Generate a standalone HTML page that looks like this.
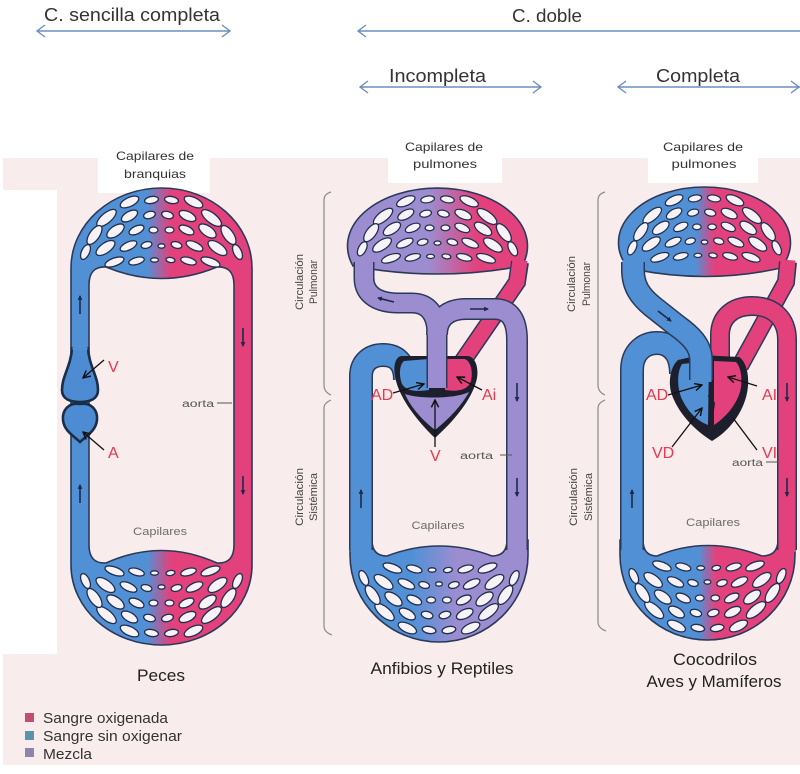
<!DOCTYPE html>
<html><head><meta charset="utf-8"><style>html,body{margin:0;padding:0;background:#fff}svg{display:block}</style></head>
<body>
<svg width="800" height="774" viewBox="0 0 800 774" xmlns="http://www.w3.org/2000/svg" font-family="'Liberation Sans', Arial, sans-serif">
<defs>
<linearGradient id="gF" gradientUnits="userSpaceOnUse" x1="71" y1="0" x2="252" y2="0"><stop offset="0" stop-color="#5290d6"/><stop offset="0.42" stop-color="#5290d6"/><stop offset="0.55" stop-color="#e3417c"/><stop offset="1" stop-color="#e3417c"/></linearGradient>
<linearGradient id="gMl" gradientUnits="userSpaceOnUse" x1="348" y1="0" x2="527" y2="0"><stop offset="0" stop-color="#9c8dd0"/><stop offset="0.45" stop-color="#9c8dd0"/><stop offset="0.72" stop-color="#e3417c"/><stop offset="1" stop-color="#e3417c"/></linearGradient>
<linearGradient id="gMb" gradientUnits="userSpaceOnUse" x1="350" y1="0" x2="528" y2="0"><stop offset="0" stop-color="#5290d6"/><stop offset="0.35" stop-color="#5290d6"/><stop offset="0.6" stop-color="#9c8dd0"/><stop offset="1" stop-color="#9c8dd0"/></linearGradient>
<linearGradient id="gRl" gradientUnits="userSpaceOnUse" x1="620" y1="0" x2="788" y2="0"><stop offset="0" stop-color="#5290d6"/><stop offset="0.45" stop-color="#5290d6"/><stop offset="0.56" stop-color="#e3417c"/><stop offset="1" stop-color="#e3417c"/></linearGradient>
<linearGradient id="gRb" gradientUnits="userSpaceOnUse" x1="620" y1="0" x2="795" y2="0"><stop offset="0" stop-color="#5290d6"/><stop offset="0.45" stop-color="#5290d6"/><stop offset="0.55" stop-color="#e3417c"/><stop offset="1" stop-color="#e3417c"/></linearGradient>
<marker id="ah" viewBox="0 0 10 10" refX="9" refY="5" markerWidth="7" markerHeight="7" orient="auto"><path d="M1,1 L9,5 L1,9" fill="none" stroke="#111" stroke-width="1.6"/></marker>
<marker id="tm" viewBox="0 0 10 10" refX="8" refY="5" markerWidth="3" markerHeight="3" orient="auto"><path d="M0,0 L10,5 L0,10 Z" fill="#1c2a4a"/></marker>
<g id="mesh" fill="#f7f2f5" stroke="#1f2f4f" stroke-width="1.3">
<ellipse cx="-32" cy="14" rx="10" ry="4.5" transform="rotate(-25 -32 14)"/>
<ellipse cx="-10" cy="12" rx="7" ry="3.5" transform="rotate(-10 -10 12)"/>
<ellipse cx="10" cy="12" rx="7" ry="3.5" transform="rotate(10 10 12)"/>
<ellipse cx="32" cy="14" rx="10" ry="4.5" transform="rotate(25 32 14)"/>
<ellipse cx="-55" cy="30" rx="12" ry="5" transform="rotate(-40 -55 30)"/>
<ellipse cx="-32" cy="28" rx="9" ry="4.5" transform="rotate(-30 -32 28)"/>
<ellipse cx="-12" cy="27" rx="6" ry="3.5" transform="rotate(-15 -12 27)"/>
<ellipse cx="6" cy="27" rx="6" ry="3.5" transform="rotate(15 6 27)"/>
<ellipse cx="26" cy="28" rx="9" ry="4.5" transform="rotate(25 26 28)"/>
<ellipse cx="50" cy="30" rx="12" ry="5" transform="rotate(38 50 30)"/>
<ellipse cx="-67" cy="47" rx="11" ry="5" transform="rotate(-55 -67 47)"/>
<ellipse cx="-46" cy="43" rx="10" ry="5" transform="rotate(-35 -46 43)"/>
<ellipse cx="-25" cy="42" rx="8" ry="4" transform="rotate(-25 -25 42)"/>
<ellipse cx="-8" cy="42" rx="4.5" ry="3"/>
<ellipse cx="8" cy="42" rx="4.5" ry="3"/>
<ellipse cx="25" cy="42" rx="8" ry="4" transform="rotate(25 25 42)"/>
<ellipse cx="46" cy="43" rx="10" ry="5" transform="rotate(35 46 43)"/>
<ellipse cx="67" cy="47" rx="11" ry="5" transform="rotate(55 67 47)"/>
<ellipse cx="-76" cy="64" rx="8" ry="4" transform="rotate(-65 -76 64)"/>
<ellipse cx="-56" cy="60" rx="11" ry="5" transform="rotate(-35 -56 60)"/>
<ellipse cx="-33" cy="58" rx="9" ry="4" transform="rotate(-25 -33 58)"/>
<ellipse cx="-15" cy="57" rx="5.5" ry="3.2" transform="rotate(-15 -15 57)"/>
<ellipse cx="0" cy="58" rx="3.5" ry="2.2"/>
<ellipse cx="15" cy="57" rx="5.5" ry="3.2" transform="rotate(15 15 57)"/>
<ellipse cx="33" cy="58" rx="9" ry="4" transform="rotate(25 33 58)"/>
<ellipse cx="56" cy="60" rx="11" ry="5" transform="rotate(35 56 60)"/>
<ellipse cx="76" cy="64" rx="8" ry="4" transform="rotate(65 76 64)"/>
<ellipse cx="-47" cy="74" rx="10" ry="4" transform="rotate(-20 -47 74)"/>
<ellipse cx="-25" cy="73" rx="8" ry="3.5" transform="rotate(-15 -25 73)"/>
<ellipse cx="-7" cy="72" rx="4" ry="2.2"/>
<ellipse cx="9" cy="72" rx="4.5" ry="2.5" transform="rotate(10 9 72)"/>
<ellipse cx="27" cy="73" rx="8" ry="3.5" transform="rotate(15 27 73)"/>
<ellipse cx="49" cy="74" rx="10" ry="4" transform="rotate(20 49 74)"/>
</g>
</defs>

<!-- backgrounds -->
<rect x="0" y="0" width="800" height="774" fill="#ffffff"/>
<rect x="3" y="158" width="797" height="607" fill="#f8ecec"/>
<rect x="0" y="190" width="57" height="464" fill="#ffffff"/>
<rect x="98" y="140" width="112" height="53" fill="#ffffff"/>
<rect x="388" y="140" width="114" height="43" fill="#ffffff"/>
<rect x="648" y="140" width="110" height="43" fill="#ffffff"/>

<!-- header -->
<g fill="#333" font-size="18">
<text x="44" y="21" textLength="176" lengthAdjust="spacingAndGlyphs">C. sencilla  completa</text>
<text x="512" y="22" textLength="70" lengthAdjust="spacingAndGlyphs">C. doble</text>
<text x="389" y="82" textLength="97" lengthAdjust="spacingAndGlyphs">Incompleta</text>
<text x="656" y="82" textLength="84" lengthAdjust="spacingAndGlyphs">Completa</text>
</g>
<g stroke="#6d8fbd" stroke-width="1.4" fill="none">
<path d="M37,31 L230,31 M45,25 L37,31 L45,37 M222,25 L230,31 L222,37"/>
<path d="M358,31 L800,31 M366,25 L358,31 L366,37"/>
<path d="M360,87 L541,87 M368,81 L360,87 L368,93 M533,81 L541,87 L533,93"/>
<path d="M618,87 L800,87 M626,81 L618,87 L626,93 M791,81 L799,87 L791,93"/>
</g>

<!-- capillary box labels -->
<g fill="#333" font-size="12" text-anchor="middle">
<text x="155" y="160" textLength="78" lengthAdjust="spacingAndGlyphs">Capilares de</text>
<text x="155" y="178" textLength="62" lengthAdjust="spacingAndGlyphs">branquias</text>
<text x="444" y="151" textLength="78" lengthAdjust="spacingAndGlyphs">Capilares de</text>
<text x="445" y="168" textLength="64" lengthAdjust="spacingAndGlyphs">pulmones</text>
<text x="703" y="151" textLength="80" lengthAdjust="spacingAndGlyphs">Capilares de</text>
<text x="704" y="168" textLength="65" lengthAdjust="spacingAndGlyphs">pulmones</text>
</g>

<!-- ================= FISH ================= -->
<path fill-rule="evenodd" fill="url(#gF)" stroke="#2a3a58" stroke-width="1.6" d="M71,268 C71,224 111.5,188 161.5,188 C211.5,188 252,224 252,268 L252,565 C252,609 211.5,645 161.5,645 C111.5,645 71,609 71,565 Z M89,285 Q89,266 106,267 Q161.5,290 217,267 Q234,266 234,285 L234,545 Q234,564 217,563 Q161.5,538 106,563 Q89,564 89,545 Z"/>
<use href="#mesh" transform="translate(161.5,188)"/>
<use href="#mesh" transform="translate(161.5,645) scale(1,-1)"/>
<path d="M72,348 C71,366 62,376 62,390 C62,399 70,402 80,402 C90,402 98,399 98,390 C98,376 89,366 88,348 Z" fill="#4d8bd2" stroke="#1b2d48" stroke-width="2.6"/>
<path d="M80,404 C69,402 62,410 63,420 C64,431 74,436 80,442 C86,436 96,431 97,420 C98,410 91,402 80,404 Z" fill="#4d8bd2" stroke="#1b2d48" stroke-width="2.6"/>
<rect x="72.5" y="338" width="15" height="12" fill="#5290d6"/>
<g stroke="#1c2a4a" stroke-width="1.6" marker-end="url(#tm)">
<path d="M80,314 L80,296"/><path d="M80,503 L80,485"/>
<path d="M243,328 L243,346"/><path d="M243,476 L243,494"/>
</g>
<g stroke="#111" stroke-width="1.3" marker-end="url(#ah)" fill="none">
<path d="M104,360 L83,378"/><path d="M104,450 L83,432"/>
</g>
<g fill="#e8384f" font-size="16">
<text x="108" y="372">V</text>
<text x="108" y="458">A</text>
</g>
<text x="182" y="407" font-size="10" fill="#555" textLength="32" lengthAdjust="spacingAndGlyphs">aorta</text>
<path d="M217,403 L232,403" stroke="#555" stroke-width="1"/>
<text x="160" y="535" font-size="11" fill="#6d6d6d" text-anchor="middle" textLength="54" lengthAdjust="spacingAndGlyphs">Capilares</text>

<!-- ================= MIDDLE ================= -->
<path fill="url(#gMb)" stroke="#2a3a58" stroke-width="1.6" d="M350,540 L350,555 C350,603 390,642 439,642 C488,642 528,603 528,555 L528,540 L507,540 Q507,556 492,556 Q439,536 387,556 Q372,556 372,540 Z"/>
<use href="#mesh" transform="translate(439,642) scale(0.99,-1)"/>
<path fill="url(#gMl)" stroke="#2a3a58" stroke-width="1.6" d="M353,266 A90,58 0 1 1 522,266 Q437.5,282 353,266 Z"/>
<use href="#mesh" transform="translate(437.5,188) scale(0.99,0.95)"/>
<!-- left blue vessel -->
<path d="M361,550 L361,376 C361,362 371,355 383,355 C396,355 405,362 405,380" stroke="#2a3a58" stroke-width="24" fill="none"/>
<path d="M361,552 L361,376 C361,362 371,355 383,355 C396,355 405,362 405,380" stroke="#5290d6" stroke-width="21" fill="none"/>
<!-- pink vein -->
<path d="M520,262 L517,282 L458,368" stroke="#2a3a58" stroke-width="18" fill="none"/>
<path d="M520,260 L517,282 L458,368" stroke="#e3417c" stroke-width="15" fill="none"/>
<!-- heart -->
<path d="M402,356 C396,356 393,365 395,376 C398,396 416,420 435,438 C455,420 473,398 477,378 C479,365 474,356 467,356 Z" fill="#1d1f2c"/>
<path d="M404,361 C399,365 399,376 402,384 C406,391 416,392 429,390 L429,359 Z" fill="#5290d6"/>
<path d="M445,359 L445,390 C458,392 468,390 471,381 C473,371 471,362 465,359 Z" fill="#e3417c"/>
<path d="M405,394 C418,399 455,399 469,392 C462,405 449,419 435,430 C421,419 410,406 405,394 Z" fill="#9c8dd0"/>
<!-- purple set -->
<g fill="none" stroke="#2a3a58">
<path d="M364,262 L364,278 C364,296 380,303 398,303 L412,303 C428,303 437,314 437,335" stroke-width="21"/>
<path d="M517,550 L517,340 C517,320 510,309 495,309 L466,309 C448,309 437,318 437,335" stroke-width="22"/>
<path d="M437,325 L437,388" stroke-width="21"/>
</g>
<g fill="none" stroke="#9c8dd0">
<path d="M364,260 L364,278 C364,296 380,303 398,303 L412,303 C428,303 437,314 437,335" stroke-width="18"/>
<path d="M517,552 L517,340 C517,320 510,309 495,309 L466,309 C448,309 437,318 437,335" stroke-width="19"/>
<path d="M437,322 L437,388" stroke-width="18"/>
</g>
<g stroke="#1c2a4a" stroke-width="1.6" marker-end="url(#tm)">
<path d="M361,508 L361,490"/><path d="M517,383 L517,401"/><path d="M517,478 L517,496"/>
<path d="M394,302 L378,298"/><path d="M470,309 L488,309"/>
</g>
<g stroke="#111" stroke-width="1.3" marker-end="url(#ah)" fill="none">
<path d="M393,393 L424,384"/><path d="M482,390 L457,377"/><path d="M435,447 L435,400"/>
</g>
<g fill="#e8384f" font-size="16">
<text x="371" y="400">AD</text>
<text x="482" y="400">Ai</text>
<text x="430" y="461">V</text>
</g>
<text x="460" y="459" font-size="10" fill="#555" textLength="33" lengthAdjust="spacingAndGlyphs">aorta</text>
<path d="M500,455 L512,455" stroke="#555" stroke-width="1"/>
<text x="438" y="529" font-size="11" fill="#6d6d6d" text-anchor="middle" textLength="53" lengthAdjust="spacingAndGlyphs">Capilares</text>

<!-- ================= RIGHT ================= -->
<path fill="url(#gRb)" stroke="#2a3a58" stroke-width="1.6" d="M620,540 L620,555 C620,602 659.5,640 707.5,640 C755.5,640 795,602 795,555 L795,540 L778,540 Q778,556 762,556 Q707,535 657,556 Q643,556 643,540 Z"/>
<use href="#mesh" transform="translate(707.5,640) scale(0.97,-1)"/>
<path fill="url(#gRl)" stroke="#2a3a58" stroke-width="1.6" d="M628,268 A86,55.6 0 1 1 781,268 Q704.5,285 628,268 Z"/>
<use href="#mesh" transform="translate(704.5,187) scale(0.95,0.95)"/>
<!-- vena cava -->
<path d="M632,550 L632,370 C632,353 643,343 657,343 C671,343 681,353 681,374" stroke="#2a3a58" stroke-width="24" fill="none"/>
<path d="M632,552 L632,370 C632,353 643,343 657,343 C671,343 681,353 681,374" stroke="#5290d6" stroke-width="21" fill="none"/>
<!-- pink pulmonary vein -->
<path d="M788,262 L786,282 L740,366" stroke="#2a3a58" stroke-width="18" fill="none"/>
<path d="M788,260 L786,282 L740,366" stroke="#e3417c" stroke-width="15" fill="none"/>
<!-- aorta -->
<path d="M720,400 L720,335 C720,317 733,306 752,306 C773,306 787,318 787,340 L787,550" stroke="#2a3a58" stroke-width="20" fill="none"/>
<path d="M720,400 L720,335 C720,317 733,306 752,306 C773,306 787,318 787,340 L787,552" stroke="#e3417c" stroke-width="17" fill="none"/>
<!-- heart -->
<path d="M678,360 C671,366 668,380 671,392 C677,412 694,430 712,441 C729,431 743,413 747,393 C750,378 747,362 739,357 L700,355 Z" fill="#1d1f2c"/>
<path d="M682,364 C677,372 677,386 681,397 C687,411 697,421 708,425 L709,361 Z" fill="#5290d6"/>
<path d="M714,361 L714,425 C726,417 736,405 740,392 C743,380 741,367 736,362 Z" fill="#e3417c"/>
<path d="M711,362 L713,390 L709,396 L714,403 L711,425" stroke="#1d1f2c" stroke-width="2" fill="none"/>
<!-- blue S -->
<path d="M701,380 L701,360 C701,345 690,335 676,325 L652,306 C640,296 633,286 633,270 L633,262" stroke="#2a3a58" stroke-width="24" fill="none"/>
<path d="M701,382 L701,360 C701,345 690,335 676,325 L652,306 C640,296 633,286 633,270 L633,260" stroke="#5290d6" stroke-width="21" fill="none"/>
<g stroke="#1c2a4a" stroke-width="1.6" marker-end="url(#tm)">
<path d="M632,508 L632,490"/><path d="M787,383 L787,401"/><path d="M787,478 L787,496"/>
<path d="M658,311 L671,321"/>
</g>
<g stroke="#111" stroke-width="1.3" fill="none">
<path d="M668,395 L702,385" marker-end="url(#ah)"/>
<path d="M672,447 L702,408" marker-end="url(#ah)"/>
<path d="M757,386 L728,377" marker-end="url(#ah)"/>
<path d="M757,450 L733,418"/>
</g>
<g fill="#e8384f" font-size="16">
<text x="646" y="400">AD</text>
<text x="762" y="400">AI</text>
<text x="652" y="458">VD</text>
<text x="762" y="458">VI</text>
</g>
<text x="732" y="466" font-size="10" fill="#555" textLength="31" lengthAdjust="spacingAndGlyphs">aorta</text>
<path d="M766,462 L778,462" stroke="#555" stroke-width="1"/>
<text x="713" y="526" font-size="11" fill="#6d6d6d" text-anchor="middle" textLength="54" lengthAdjust="spacingAndGlyphs">Capilares</text>

<!-- brackets -->
<g stroke="#8a8a8a" stroke-width="1.2" fill="none">
<path d="M331,192 Q324,194 324,200 L324,385 Q324,392 331,395"/>
<path d="M331,400 Q324,403 324,408 L324,626 Q324,632 332,635"/>
<path d="M605,192 Q598,194 598,200 L598,385 Q598,392 605,395"/>
<path d="M605,400 Q598,403 598,408 L598,622 Q598,628 606,631"/>
</g>
<g fill="#444" font-size="11" text-anchor="middle">
<text transform="translate(303,282) rotate(-90)" textLength="56" lengthAdjust="spacingAndGlyphs">Circulación</text>
<text transform="translate(317,282) rotate(-90)" textLength="44" lengthAdjust="spacingAndGlyphs">Pulmonar</text>
<text transform="translate(303,497) rotate(-90)" textLength="58" lengthAdjust="spacingAndGlyphs">Circulación</text>
<text transform="translate(317,497) rotate(-90)" textLength="48" lengthAdjust="spacingAndGlyphs">Sistémica</text>
<text transform="translate(575,284) rotate(-90)" textLength="56" lengthAdjust="spacingAndGlyphs">Circulación</text>
<text transform="translate(590,284) rotate(-90)" textLength="44" lengthAdjust="spacingAndGlyphs">Pulmonar</text>
<text transform="translate(577,497) rotate(-90)" textLength="58" lengthAdjust="spacingAndGlyphs">Circulación</text>
<text transform="translate(592,497) rotate(-90)" textLength="48" lengthAdjust="spacingAndGlyphs">Sistémica</text>
</g>

<!-- bottom labels -->
<g fill="#222" font-size="17" text-anchor="middle">
<text x="161" y="681" textLength="48" lengthAdjust="spacingAndGlyphs">Peces</text>
<text x="442" y="674" textLength="143" lengthAdjust="spacingAndGlyphs">Anfibios y Reptiles</text>
<text x="715" y="665" textLength="84" lengthAdjust="spacingAndGlyphs">Cocodrilos</text>
<text x="714" y="687" textLength="135" lengthAdjust="spacingAndGlyphs">Aves y Mamíferos</text>
</g>

<!-- legend -->
<rect x="25" y="713" width="9" height="9" fill="#c14f72"/>
<rect x="25" y="731" width="9" height="9" fill="#5d92ad"/>
<rect x="25" y="748" width="9" height="9" fill="#8d84ab"/>
<g fill="#333" font-size="15">
<text x="43" y="723" textLength="125" lengthAdjust="spacingAndGlyphs">Sangre oxigenada</text>
<text x="43" y="741" textLength="139" lengthAdjust="spacingAndGlyphs">Sangre sin oxigenar</text>
<text x="43" y="759" textLength="49" lengthAdjust="spacingAndGlyphs">Mezcla</text>
</g>
</svg>
</body></html>
